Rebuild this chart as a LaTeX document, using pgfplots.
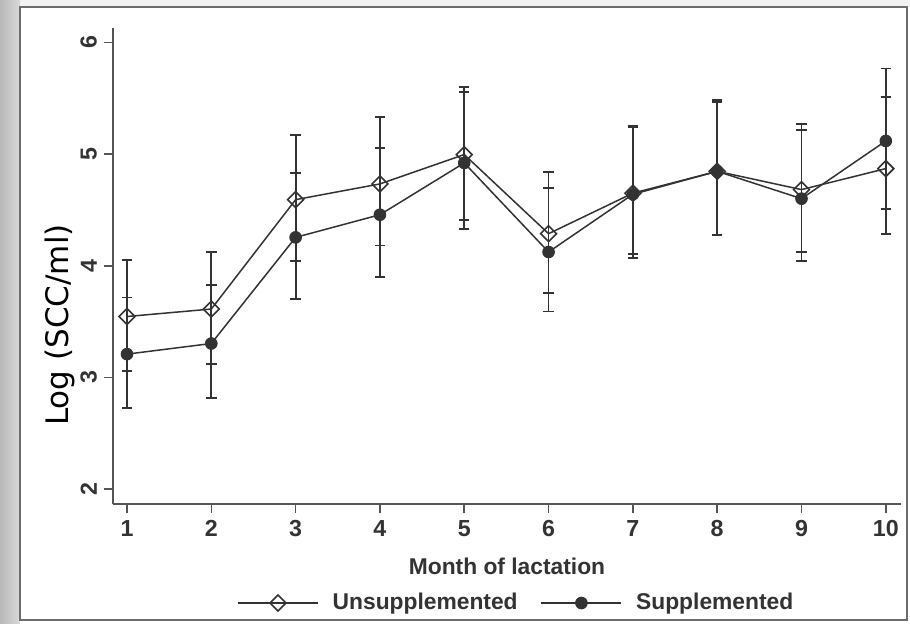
\documentclass[border=0pt]{standalone}
\usepackage{pgfplots}
\usepackage{pgfplotstable}
\pgfplotsset{compat=1.18}
\usepackage{fontspec}
\setmainfont{Liberation Sans}
\newfontfamily\dejavu{DejaVu Sans}
\definecolor{ink}{HTML}{333333}
\definecolor{axisgray}{HTML}{555555}

% month, mean, upper, lower
\pgfplotstableread{
m  u      uhi    ulo    s      shi    slo
1  3.545  4.054  3.060  3.208  3.716  2.726
2  3.612  4.123  3.118  3.303  3.827  2.813
3  4.592  5.169  4.039  4.254  4.834  3.704
4  4.733  5.330  4.182  4.457  5.055  3.899
5  4.996  5.603  4.413  4.921  5.558  4.329
6  4.287  4.843  3.755  4.123  4.697  3.590
7  4.650  5.250  4.105  4.640  5.240  4.066
8  4.846  5.482  4.278  4.846  5.464  4.278
9  4.682  5.271  4.126  4.601  5.217  4.039
10 4.870  5.510  4.284  5.118  5.767  4.511
}\scc

\begin{document}
\begin{tikzpicture}
  % page background and frame (1px = 0.5pt, origin at axis corner)
  \fill[white] (-56.5pt,-59.5pt) rectangle (398.5pt,252pt);
  \fill[gray!10] (-56.5pt,248.5pt) rectangle (398.5pt,252pt);
  \shade[left color=gray!55, right color=gray!30] (-56.5pt,-59.5pt) rectangle (-46.5pt,252pt);
  \draw[gray!85!black, line width=0.7pt] (-46.5pt,-58pt) rectangle (397pt,248.5pt);

  \begin{axis}[
    scale only axis,
    width=394pt, height=238pt,
    xmin=0.834, xmax=10.18,
    ymin=1.865, ymax=6.13,
    axis x line*=bottom, axis y line*=left,
    axis line style={-, axisgray, line width=0.8pt},
    xtick={1,...,10}, ytick={2,...,6},
    tick align=outside,
    major tick length=4.5pt,
    tick style={axisgray, line width=0.8pt},
    /pgf/number format/assume math mode=true,
    ticklabel style={font=\bfseries\fontsize{11.6}{13}\selectfont, text=ink},
    yticklabel style={rotate=90, anchor=south},
    xlabel={Month of lactation},
    xlabel style={at={(axis description cs:0.5,-0.13)}, anchor=center,
      font=\bfseries\fontsize{11.4}{13}\selectfont, text=ink},
    ylabel={Log (SCC/ml)},
    ylabel style={at={(axis description cs:-0.067,0.376)}, anchor=center, rotate=0,
      font=\dejavu\fontsize{15.5}{18}\selectfont, text=black},
    legend columns=2,
    legend style={at={(axis description cs:0.513,-0.208)}, anchor=center, draw=none,
      fill=none, font=\bfseries\fontsize{11.4}{13}\selectfont, text=ink,
      /tikz/every odd column/.append style={column sep=5pt},
      /tikz/every even column/.append style={column sep=9.5pt}},
    legend image code/.code={
      \draw[mark repeat=2, mark phase=2, #1] plot coordinates {(0pt,0pt) (20pt,0pt) (40pt,0pt)};},
    clip=false,
  ]
  \addplot[ink, line width=0.75pt, mark=square, mark size=2.8pt,
           mark options={rotate=45, fill=none, line width=0.8pt},
           error bars/.cd, y dir=both, y explicit,
           error mark options={rotate=90, mark size=2.6pt, line width=0.9pt, ink},
           error bar style={line width=0.9pt, ink}]
    table[x=m, y=u, y error plus expr=\thisrow{uhi}-\thisrow{u},
          y error minus expr=\thisrow{u}-\thisrow{ulo}] {\scc};
  \addlegendentry{Unsupplemented}
  \addplot[ink, line width=0.75pt, mark=*, mark size=2.9pt,
           mark options={fill=ink, line width=0.5pt},
           error bars/.cd, y dir=both, y explicit,
           error mark options={rotate=90, mark size=2.6pt, line width=0.9pt, ink},
           error bar style={line width=0.9pt, ink}]
    table[x=m, y=s, y error plus expr=\thisrow{shi}-\thisrow{s},
          y error minus expr=\thisrow{s}-\thisrow{slo}] {\scc};
  \addlegendentry{Supplemented}
  \end{axis}
  \pgfresetboundingbox
  \useasboundingbox (-56.5pt,-59.5pt) rectangle (398.5pt,252pt);
\end{tikzpicture}
\end{document}
